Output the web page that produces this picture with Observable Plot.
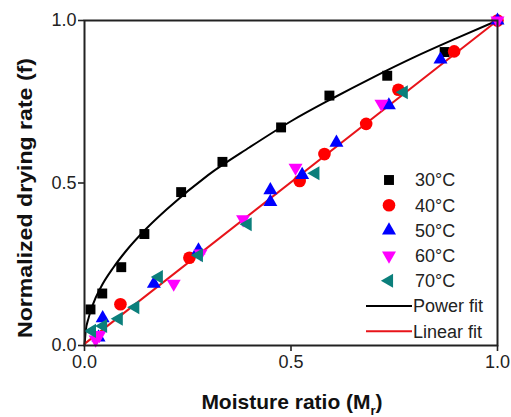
<!DOCTYPE html>
<html><head><meta charset="utf-8">
<script src="https://cdn.jsdelivr.net/npm/d3@7"></script>
<script src="https://cdn.jsdelivr.net/npm/@observablehq/plot@0.6"></script>
<style>body{margin:0;background:#fff} svg{display:block}</style>
</head><body><div id="chart"></div>
<script>
// 30°C
const m30 = [0.0145, 0.043, 0.089, 0.145, 0.234, 0.334, 0.476, 0.593, 0.733, 0.872];
const f30 = [0.111, 0.160, 0.241, 0.343, 0.472, 0.565, 0.671, 0.769, 0.830, 0.903];
// 40°C
const m40 = [0.087, 0.254, 0.521, 0.581, 0.682, 0.760, 0.895, 1.0];
const f40 = [0.127, 0.270, 0.506, 0.589, 0.682, 0.787, 0.905, 1.0];
// 50°C
const m50 = [0.034, 0.044, 0.168, 0.276, 0.450, 0.450, 0.527, 0.610, 0.737, 0.862, 1.0];
const f50 = [0.025, 0.084, 0.190, 0.293, 0.478, 0.442, 0.525, 0.624, 0.739, 0.880, 1.0];
// 60°C
const m60 = [0.027, 0.036, 0.216, 0.281, 0.384, 0.511, 0.719, 1.0];
const f60 = [0.018, 0.032, 0.190, 0.283, 0.388, 0.547, 0.744, 1.0];
// 70°C
const m70 = [0.018, 0.045, 0.083, 0.123, 0.180, 0.277, 0.395, 0.559, 0.773];
const f70 = [0.045, 0.060, 0.082, 0.118, 0.211, 0.278, 0.373, 0.530, 0.779];
// Power fit curve
const powerM = [0, 0.003, 0.01, 0.02, 0.04, 0.07, 0.1, 0.15, 0.2, 0.3, 0.4, 0.5, 0.6, 0.7, 0.8, 0.9, 1.0];
const powerF = [0, 0.045, 0.085, 0.125, 0.18, 0.24, 0.29, 0.36, 0.42, 0.525, 0.61, 0.69, 0.76, 0.826, 0.888, 0.945, 1.0];
// Linear fit
const linM = [0, 1];
const linF = [0.005, 1];

const ticks = [0, 0.5, 1.0];
const seriesLabels = ["30°C", "40°C", "50°C", "60°C", "70°C"];
const seriesColors = ["#000000", "#ff0000", "#0000ff", "#ff00ff", "#0b7f7b"];
const seriesSymbols = ["square", "circle", "triangle", "triangle", "triangle"];
const seriesRotate = [0, 0, 0, 180, -90];
const seriesR = [5.6, 6.3, 5.2, 5.2, 5.2];
const fitLabels = ["Power fit", "Linear fit"];
const fitColors = ["#000000", "#e8141a"];

const zip = (a, b) => a.map((v, i) => ({m: v, f: b[i]}));
const series = [zip(m30, f30), zip(m40, f40), zip(m50, f50), zip(m60, f60), zip(m70, f70)];

const font = "'Liberation Sans', Arial, sans-serif";

const chart = Plot.plot({
  width: 511, height: 417,
  marginLeft: 84, marginRight: 14, marginTop: 20, marginBottom: 72,
  style: {fontFamily: font, fontSize: "18px", color: "#222", background: "#fff"},
  x: {domain: [0, 1], ticks: ticks, tickFormat: d3.format(".1f"), tickSize: 6, tickPadding: 4, label: null},
  y: {domain: [0, 1], ticks: ticks, tickFormat: d3.format(".1f"), tickSize: 6, tickPadding: 2, label: null},
  marks: [
    Plot.line(zip(powerM, powerF), {x: "m", y: "f", stroke: fitColors[0], strokeWidth: 2, curve: "monotone-x"}),
    Plot.line(zip(linM, linF), {x: "m", y: "f", stroke: fitColors[1], strokeWidth: 2}),
    ...series.map((d, i) => Plot.dot(d, {
      x: "m", y: "f", symbol: seriesSymbols[i], fill: seriesColors[i],
      r: seriesR[i], rotate: seriesRotate[i]
    })),
    Plot.frame({stroke: "#222", strokeWidth: 2})
  ]
});

const svg = d3.select(chart);
svg.selectAll("[aria-label='x-axis tick'], [aria-label='y-axis tick']").attr("stroke-width", 1.6);

// Legend
const lg = svg.append("g").attr("font-family", font).attr("font-size", 18)
  .attr("fill", "#222").attr("text-anchor", "start");
const rowY = i => 180 + i * 25.2;
seriesLabels.forEach((lab, i) => {
  const size = Math.PI * seriesR[i] * seriesR[i];
  const type = {square: d3.symbolSquare, circle: d3.symbolCircle, triangle: d3.symbolTriangle}[seriesSymbols[i]];
  lg.append("path")
    .attr("d", d3.symbol(type, size)())
    .attr("fill", seriesColors[i])
    .attr("transform", `translate(389,${rowY(i)}) rotate(${seriesRotate[i]})`);
  lg.append("text").attr("x", 415).attr("y", rowY(i)).attr("dy", "0.35em").text(lab);
});
fitLabels.forEach((lab, j) => {
  const y = rowY(5 + j);
  lg.append("line").attr("x1", 366).attr("x2", 412).attr("y1", y).attr("y2", y)
    .attr("stroke", fitColors[j]).attr("stroke-width", 2);
  lg.append("text").attr("x", 413).attr("y", y).attr("dy", "0.35em").text(lab);
});

// Axis titles
svg.append("text")
  .attr("x", 292).attr("y", 402).attr("dy", "0.35em")
  .attr("text-anchor", "middle").attr("font-family", font)
  .attr("font-weight", "bold").attr("font-size", 21).attr("fill", "#111")
  .html('Moisture ratio (M<tspan font-size="13" dy="6">r</tspan><tspan dy="-6">)</tspan>');
svg.append("text")
  .attr("transform", "translate(25,198) rotate(-90)").attr("dy", "0.35em")
  .attr("text-anchor", "middle").attr("font-family", font)
  .attr("font-weight", "bold").attr("font-size", 21).attr("fill", "#111")
  .attr("textLength", 280).attr("lengthAdjust", "spacingAndGlyphs")
  .text("Normalized drying rate (f)");

document.getElementById("chart").appendChild(chart);
</script>
</body></html>
